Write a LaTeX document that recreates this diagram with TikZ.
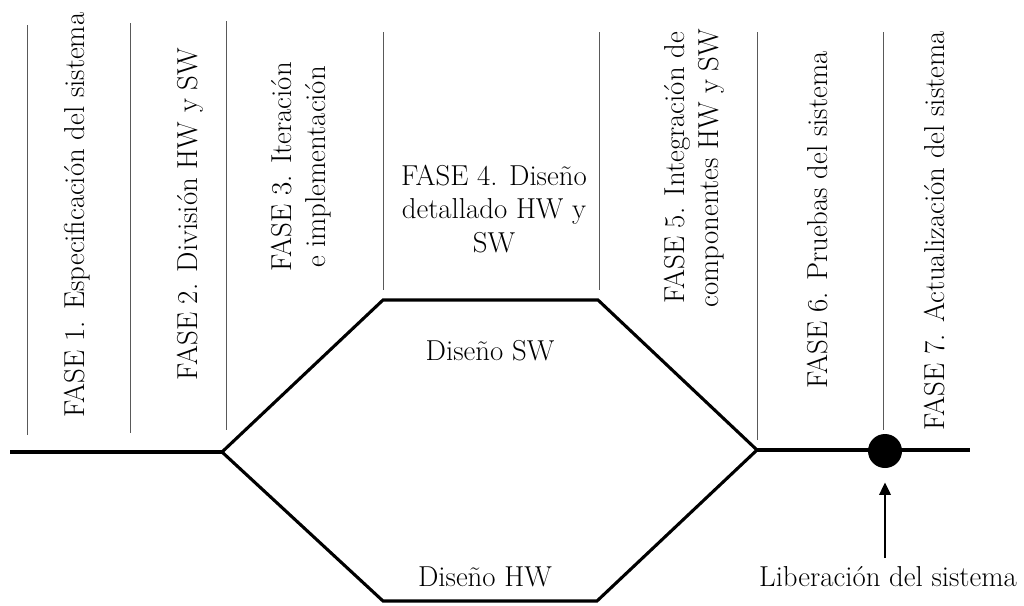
\documentclass[tikz,border=0pt]{standalone}
\usetikzlibrary{arrows.meta}

\begin{document}
\begin{tikzpicture}[x=0.025cm,y=-0.025cm,
	font=\fontsize{20.5}{24}\selectfont,
	fase/.style={rotate=90,align=center,inner sep=0pt},
	txt/.style={align=center,inner sep=0pt},
	sep/.style={line width=0.7pt,color=black!65},
	flujo/.style={line width=2.2pt,line join=miter},
	flecha/.style={line width=2pt,-{Triangle[length=9pt,width=8pt]}}]
	%%%%% START %%%%%
	\useasboundingbox (0,0) rectangle (1024,605);
	
	% separadores de fases
	\draw[sep] (27,25) -- (27,435);
	\draw[sep] (130,23) -- (130,433);
	\draw[sep] (226,21) -- (226,430);
	\draw[sep] (383,32) -- (383,290);
	\draw[sep] (599,32) -- (599,290);
	\draw[sep] (757,32) -- (757,440);
	\draw[sep] (883,32) -- (883,430);
	
	% textos de fases
	\node[fase] (fase1) at (77,215) {FASE 1. Especificación del sistema};
	\node[fase] (fase2) at (190,214) {FASE 2. División HW y SW};
	\node[fase] (fase3) at (301,167) {FASE 3. Iteración\\e implementación};
	\node[txt] (fase4) at (494,209) {FASE 4. Diseño\\detallado HW y\\SW};
	\node[fase] (fase5) at (694,168) {FASE 5. Integración de\\componentes HW y SW};
	\node[fase] (fase6) at (818,220) {FASE 6. Pruebas del sistema};
	\node[fase] (fase7) at (935,231) {FASE 7. Actualización del sistema};
	
	% flujo principal
	\coordinate (inicio) at (10,452);
	\coordinate (izq) at (222,452);
	\coordinate (swi) at (383,300);
	\coordinate (swd) at (598,300);
	\coordinate (der) at (757,450);
	\coordinate (hwd) at (597,601);
	\coordinate (hwi) at (383,601);
	\coordinate (fin) at (970,450);
	\draw[flujo] (inicio) -- (izq);
	\draw[flujo] (izq) -- (swi) -- (swd) -- (der) -- (hwd) -- (hwi) -- cycle;
	\draw[flujo] (der) -- (fin);
	
	\node[txt] (disSW) at (490,351) {Diseño SW};
	\node[txt] (disHW) at (485,577) {Diseño HW};
	
	% liberacion
	\node[circle,fill=black,inner sep=0pt,minimum size=0.85cm] (hito) at (885,451) {};
	\node[txt] (lib) at (888,577) {Liberación del sistema};
	\coordinate (base) at (885,558);
	\draw[flecha,shorten >=0.35cm] (base) -- (hito.south);
	
	%%%%% END %%%%%
\end{tikzpicture}
\end{document}
